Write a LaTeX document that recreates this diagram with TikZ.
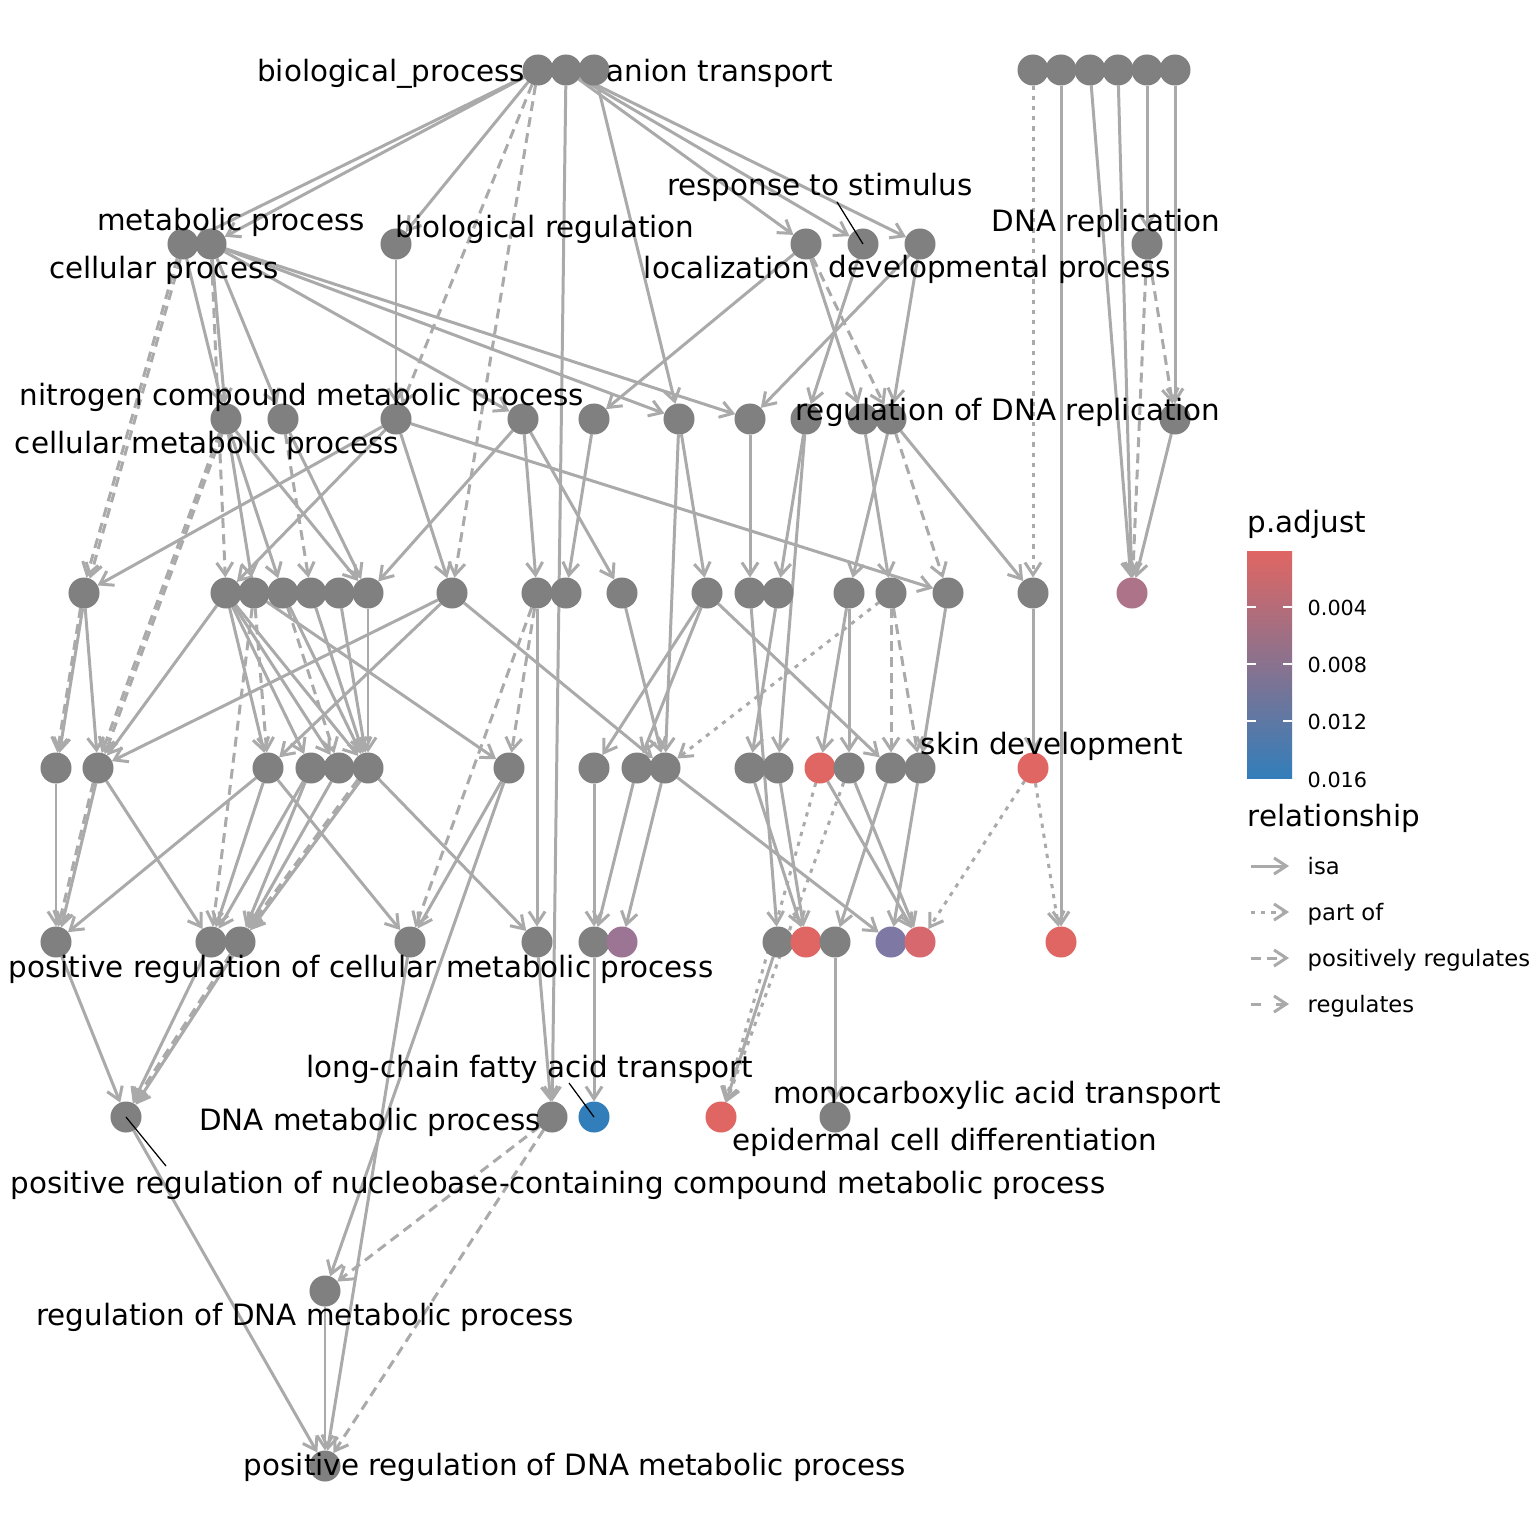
\documentclass[tikz,border=0pt]{standalone}
\usepackage{fontspec}
\setmainfont{DejaVu Sans}
\usetikzlibrary{arrows.meta,backgrounds}
\definecolor{ngray}{RGB}{128,128,128}
\definecolor{egray}{RGB}{170,170,170}
\definecolor{pred}{HTML}{E06663}
\definecolor{pblue}{HTML}{327EBA}
\definecolor{pmid}{RGB}{163,116,143}
\definecolor{cpink}{RGB}{173,115,136}
\definecolor{cplum}{RGB}{156,116,148}
\definecolor{cviol}{RGB}{126,121,164}
\definecolor{credb}{RGB}{215,104,109}

\begin{document}
\begin{tikzpicture}[x=0.01cm,y=-0.01cm]
  \tikzstyle{go}=[circle, fill=ngray, minimum size=0.31cm, inner sep=0pt, outer sep=0pt]
  \tikzstyle{isa}=[draw=egray, line width=0.85pt, -{Straight Barb[length=3.5pt,width=4.6pt]}]
  \tikzstyle{partof}=[isa, dash pattern=on 1.2pt off 1.7pt]
  \tikzstyle{posreg}=[isa, dash pattern=on 2.8pt off 1.8pt]
  \tikzstyle{regul}=[isa, dash pattern=on 2.8pt off 4.2pt]
  \tikzstyle{lbl}=[font=\fontsize{8.35}{10}\selectfont, anchor=base, inner sep=0pt]
  \tikzstyle{keylbl}=[font=\fontsize{6.45}{8}\selectfont, anchor=base west, inner sep=0pt]
  \tikzstyle{ticklbl}=[font=\fontsize{5.9}{7}\selectfont, anchor=base west, inner sep=0pt]
  \tikzstyle{leader}=[black, line width=0.35pt]
  \useasboundingbox (0,0) rectangle (1536,1536);

  % GO terms, row by row
  \foreach \x [count=\i] in {538,566,594,1033,1061,1090,1118,1147,1175}
    \node[go] (a\i) at (\x,70) {};
  \foreach \x [count=\i] in {183,211,396,806,863,920,1147}
    \node[go] (b\i) at (\x,244) {};
  \foreach \x [count=\i] in {226,283,396,523,594,679,750,806,863,891,1175}
    \node[go] (c\i) at (\x,419) {};
  \foreach \x/\c [count=\i] in {84/ngray,226/ngray,254/ngray,283/ngray,311/ngray,339/ngray,368/ngray,452/ngray,537/ngray,566/ngray,622/ngray,707/ngray,750/ngray,778/ngray,849/ngray,891/ngray,948/ngray,1033/ngray,1132/cpink}
    \node[go,fill=\c] (d\i) at (\x,593) {};
  \foreach \x/\c [count=\i] in {56/ngray,98/ngray,268/ngray,311/ngray,339/ngray,368/ngray,509/ngray,594/ngray,637/ngray,665/ngray,750/ngray,778/ngray,820/pred,849/ngray,891/ngray,920/ngray,1033/pred}
    \node[go,fill=\c] (e\i) at (\x,768) {};
  \foreach \x/\c [count=\i] in {56/ngray,211/ngray,240/ngray,410/ngray,537/ngray,594/ngray,622/cplum,778/ngray,806/pred,835/ngray,891/cviol,920/credb,1061/pred}
    \node[go,fill=\c] (f\i) at (\x,942) {};
  \foreach \x/\c [count=\i] in {126/ngray,552/ngray,594/pblue,721/pred,835/ngray}
    \node[go,fill=\c] (g\i) at (\x,1117) {};
  \node[go] (h1) at (325,1291) {};
  \node[go] (i1) at (325,1466) {};

  \begin{pgfonlayer}{background}
    \fill[white] (0,0) rectangle (1536,1536);
    \foreach \s/\t in {a1/b1,a1/b2,a1/b3,a2/b4,a2/b5,a2/b6,a2/g2,a3/c6,a5/f13,a6/d19,a7/d19,a8/b7,a9/c11,
        b1/c1,b2/c1,b2/c2,b2/c4,b2/c6,b2/c7,b3/c3,b4/c5,b4/c9,b5/c8,b6/c7,b6/c10,
        c1/d3,c1/d4,c1/d7,c2/d7,c3/d1,c3/d2,c3/d8,c3/d17,c4/d7,c4/d9,c4/d11,c5/d10,c6/d12,c6/e10,
        c7/d13,c8/d14,c8/e12,c9/d16,c10/d15,c10/d18,c11/d19,
        d1/e2,d2/e2,d2/e3,d2/e4,d2/e5,d2/e6,d3/e7,d4/e6,d5/e6,d6/e6,d7/e6,d8/e2,d8/e3,d8/e10,
        d9/f5,d11/e10,d12/e8,d12/e9,d12/e15,d13/f8,d14/e11,d15/e13,d15/e14,d17/e16,d18/e17,
        e1/f1,e2/f2,e3/f1,e3/f2,e3/f4,e4/f2,e4/f3,e5/f3,e6/f5,e7/f4,e7/h1,e8/f6,e9/f6,e10/f7,
        e10/f11,e11/f9,e12/f9,e13/f12,e14/f12,e15/f10,e16/f11,
        f1/g1,f2/g1,f4/i1,f5/g2,f6/g3,f8/g4,f10/g5,g1/i1,h1/i1}
      \draw[isa] (\s) -- (\t);
    \foreach \s/\t in {a1/c3,a1/d8,b2/d2,b4/c10,b7/d19,b7/c11,c2/d5,c10/d17,d3/e3,d3/f2,d4/e5,
        d9/e7,d9/f4,d16/e15,d16/e16,g2/h1,g2/i1}
      \draw[posreg] (\s) -- (\t);
    \foreach \s/\t in {a4/d18,d16/e10,e13/g4,e14/g4,e17/f12,e17/f13}
      \draw[partof] (\s) -- (\t);
    % doubled links
    \draw[posreg] (b1.-100) -- (d1.68);
    \draw[posreg] (b1.-112) -- (d1.81);
    \draw[posreg] (c1.-105) -- (e2.64);
    \draw[posreg] (c1.-115) -- (e2.76);
    \draw[isa] (d1.-95) -- (e1.77);
    \draw[posreg] (d1.-103) -- (e1.85);
    \draw[isa] (e2.-98) -- (f1.70);
    \draw[posreg] (e2.-108) -- (f1.82);
    \draw[isa] (e6.-121) -- (f3.49);
    \draw[posreg] (e6.-131) -- (f3.59);
    \draw[isa] (f3.-118) -- (g1.52);
    \draw[posreg] (f3.-128) -- (g1.62);
  \end{pgfonlayer}

  % term labels
  \node[lbl] (lbp) at (391,81) {biological\_process};
  \node[lbl] (lan) at (720,81) {anion transport};
  \node[lbl] (lrs) at (820,195) {response to stimulus};
  \node[lbl] (ldr) at (1106,231) {DNA replication};
  \node[lbl] (lmp) at (231,230) {metabolic process};
  \node[lbl] (lbr) at (545,237) {biological regulation};
  \node[lbl] (lcp) at (164,278) {cellular process};
  \node[lbl] (llo) at (727,278) {localization};
  \node[lbl] (ldp) at (1000,277) {developmental process};
  \node[lbl] (lnc) at (302,405) {nitrogen compound metabolic process};
  \node[lbl] (lcm) at (207,453) {cellular metabolic process};
  \node[lbl] (lrr) at (1008,420) {regulation of DNA replication};
  \node[lbl] (lsd) at (1052,754) {skin development};
  \node[lbl] (lpc) at (361,977) {positive regulation of cellular metabolic process};
  \node[lbl] (llf) at (530,1077) {long-chain fatty acid transport};
  \node[lbl] (ldm) at (370,1130) {DNA metabolic process};
  \node[lbl] (lmc) at (997,1103) {monocarboxylic acid transport};
  \node[lbl] (lec) at (945,1150) {epidermal cell differentiation};
  \node[lbl] (lpn) at (558,1193) {positive regulation of nucleobase-containing compound metabolic process};
  \node[lbl] (lrd) at (305,1325) {regulation of DNA metabolic process};
  \node[lbl] (lpd) at (575,1475) {positive regulation of DNA metabolic process};

  \coordinate (ers) at (837,202);
  \coordinate (elf) at (569,1083);
  \coordinate (epn) at (166,1166);
  \draw[leader] (ers) -- (b5.center);
  \draw[leader] (elf) -- (g3.center);
  \draw[leader] (epn) -- (g1.center);

  % legend
  \node[lbl, anchor=base west] (tpa) at (1247,532) {p.adjust};
  \shade[top color=pred, middle color=pmid, bottom color=pblue] (1247,551) rectangle (1292,778);
  \foreach \y/\v in {607/0.004,664/0.008,721/0.012} {
    \draw[white, line width=0.4pt] (1247,\y) -- (1256,\y);
    \draw[white, line width=0.4pt] (1283,\y) -- (1292,\y);
    \node[ticklbl] at (1307,\y+8) {\v};
  }
  \node[ticklbl] at (1307,787) {0.016};
  \node[lbl, anchor=base west] (trl) at (1247,826) {relationship};
  \foreach \y/\s/\t [count=\i] in {866/isa/isa,912/partof/part of,958/posreg/positively regulates,1004/regul/regulates} {
    \coordinate (k\i a) at (1251,\y);
    \coordinate (k\i b) at (1289,\y);
    \draw[\s] (k\i a) -- (k\i b);
    \node[keylbl] at (1307,\y+8) {\t};
  }
\end{tikzpicture}
\end{document}
